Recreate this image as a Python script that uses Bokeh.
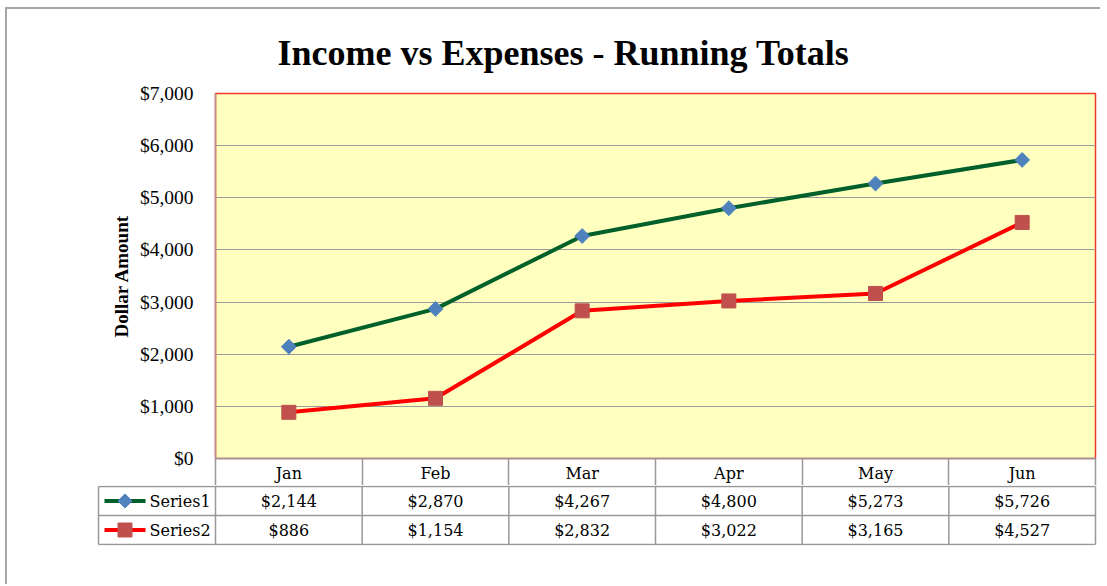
import numpy as np
from bokeh.plotting import figure
from bokeh.models import (Range1d, LinearAxis, FixedTicker,
                          SingleIntervalTicker, NumeralTickFormatter, ColumnDataSource)
from bokeh.layouts import column
from bokeh.embed import file_html
from bokeh.resources import INLINE
from bokeh.core.properties import value

# ---------------- data ----------------
months = ["Jan", "Feb", "Mar", "Apr", "May", "Jun"]
series_names = ["Series1", "Series2"]
series1 = [2144, 2870, 4267, 4800, 5273, 5726]
series2 = [886, 1154, 2832, 3022, 3165, 4527]
y_min, y_max, y_step = 0, 7000, 1000
title_text = "Income vs Expenses - Running Totals"
y_label = "Dollar Amount"

# ---------------- style ----------------
GREEN = "#00602A"
BLUE = "#4F81BD"
RED = "#FF0000"
SQUARE = "#C0504D"
YELLOW = "#FFFFC0"
GRID = "#9B9B9B"
TABLE = "#999999"
SERIF = "Liberation Serif"
TFONT = "DejaVu Serif"

OX, OY = 7, 9          # where the framed chart area starts on the page
W = 1100 - OX
n = len(months)
month_pos = [i + 0.5 for i in range(n)]   # centre of each month column

# ---------------- chart ----------------
top = figure(width=W, height=485 - OY,
             x_range=Range1d(0, n), y_range=Range1d(y_min, y_max),
             output_backend="svg", toolbar_location=None, x_axis_location=None,
             min_border_left=215 - OX, min_border_right=5, min_border_top=93 - OY,
             min_border_bottom=27,
             background_fill_color=YELLOW, border_fill_color="white",
             outline_line_color="#EE3A2A", outline_line_width=1.5)
top.frame_align = False

top.title.text = title_text
top.title.text_font = SERIF
top.title.text_font_size = "36px"
top.title.text_font_style = "bold"
top.title.align = "left"
top.title.offset = 62
top.title.standoff = 42
top.title.text_color = "black"

xaxis = LinearAxis(ticker=FixedTicker(ticks=month_pos, minor_ticks=list(range(n + 1))),
                   major_label_overrides={p: m for p, m in zip(month_pos, months)},
                   major_tick_line_color=None, major_tick_out=0, major_tick_in=0,
                   minor_tick_out=27, minor_tick_in=0,
                   minor_tick_line_color=TABLE, minor_tick_line_width=1.5,
                   axis_line_color=TABLE, axis_line_width=1.5,
                   major_label_standoff=-22,
                   major_label_text_font=TFONT, major_label_text_font_size="16px",
                   major_label_text_color="black")
top.add_layout(xaxis, "below")

yaxis = top.yaxis[0]
yaxis.ticker = SingleIntervalTicker(interval=y_step)
yaxis.formatter = NumeralTickFormatter(format="$0,0")
yaxis.major_tick_out = 0
yaxis.major_tick_in = 0
yaxis.minor_tick_line_color = None
yaxis.axis_line_color = "#B89090"
yaxis.axis_line_width = 1.5
yaxis.major_label_standoff = 18
yaxis.major_label_text_font = SERIF
yaxis.major_label_text_font_size = "19.5px"
yaxis.major_label_text_color = "black"
yaxis.axis_label = y_label
yaxis.axis_label_text_font = SERIF
yaxis.axis_label_text_font_size = "19px"
yaxis.axis_label_text_font_style = "bold"
yaxis.axis_label_text_color = "black"
yaxis.axis_label_standoff = 5

top.xgrid.visible = False
top.ygrid.ticker = SingleIntervalTicker(interval=y_step)
top.ygrid.grid_line_color = GRID
top.ygrid.grid_line_width = 1.2

src = ColumnDataSource(dict(x=month_pos, month=months, s1=series1, s2=series2))
top.line("x", "s1", source=src, line_color=GREEN, line_width=4, line_join="round")
top.scatter("x", "s1", source=src, marker="square", angle=np.pi / 4, size=10.5,
            fill_color=BLUE, line_color=BLUE)
top.line("x", "s2", source=src, line_color=RED, line_width=4, line_join="round")
top.scatter("x", "s2", source=src, marker="square", size=14,
            fill_color=SQUARE, line_color=SQUARE)

# ---------------- data table ----------------
colw = 880 / n          # px per month column
L = 117 / colw          # legend column width in column units
pad_x = 2 / colw
pad_y = 1 / 29

bot = figure(width=W, height=584 - 485,
             x_range=Range1d(-L - pad_x, n + pad_x), y_range=Range1d(-pad_y, 2 + pad_y),
             output_backend="svg", toolbar_location=None,
             x_axis_location=None, y_axis_location=None,
             min_border_left=96 - OX, min_border_right=3, min_border_top=0,
             min_border_bottom=584 - 485 - 60,
             outline_line_color=None, background_fill_color="white", border_fill_color="white")
bot.frame_align = False
bot.grid.visible = False

rows = len(series_names)
# horizontal rules
bot.segment(x0=[-L] * (rows + 1), x1=[n] * (rows + 1), y0=list(range(rows + 1)),
            y1=list(range(rows + 1)), line_color=TABLE, line_width=1.5)
# vertical rules
vx = [-L] + list(range(n + 1))
bot.segment(x0=vx, x1=vx, y0=[0] * len(vx), y1=[rows] * len(vx),
            line_color=TABLE, line_width=1.5)

row_y = [rows - 0.5 - r for r in range(rows)]
vals = [series1, series2]
tx, ty, tt = [], [], []
for r, vs in enumerate(vals):
    for p, v in zip(month_pos, vs):
        tx.append(p)
        ty.append(row_y[r])
        tt.append(f"${v:,}")
bot.text(x=tx, y=ty, text=tt, text_align="center", text_baseline="middle",
         text_font=value(TFONT), text_font_size="16px", text_color="black")

# legend keys in the first column
lx0 = -L + 6 / colw
lx1 = -L + 47 / colw
lxm = -L + 26.5 / colw
lxt = -L + 51 / colw
bot.segment(x0=[lx0], x1=[lx1], y0=[row_y[0]], y1=[row_y[0]], line_color=GREEN, line_width=4)
bot.segment(x0=[lx0], x1=[lx1], y0=[row_y[1]], y1=[row_y[1]], line_color=RED, line_width=4)
bot.scatter(x=[lxm], y=[row_y[0]], marker="square", angle=np.pi / 4, size=10,
            fill_color=BLUE, line_color=BLUE)
bot.scatter(x=[lxm], y=[row_y[1]], marker="square", size=14,
            fill_color=SQUARE, line_color=SQUARE)
bot.text(x=[lxt] * rows, y=row_y, text=series_names, text_align="left",
         text_baseline="middle", text_font=value(TFONT), text_font_size="16px",
         text_color="black")

layout = column(top, bot, spacing=0, margin=(OY - 2, 0, 0, OX - 2),
                styles={"border-left": "2px solid #A6A6A6", "border-top": "2px solid #A6A6A6"})
open("out.html", "w").write(file_html(layout, INLINE))
